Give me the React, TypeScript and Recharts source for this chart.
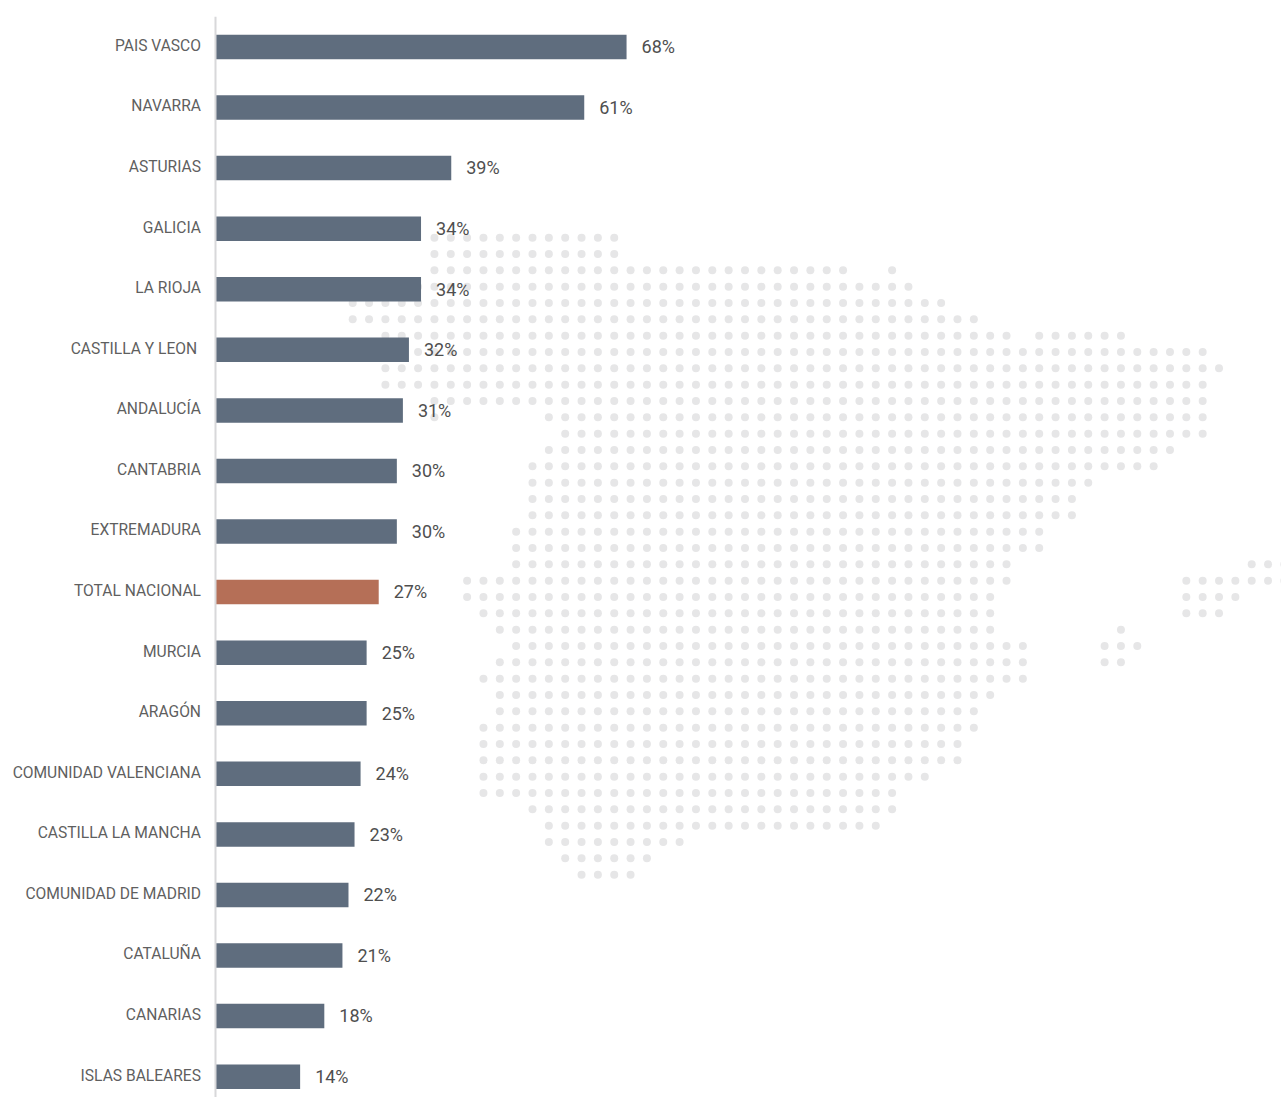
import React from 'react';
import { BarChart, Bar, XAxis, YAxis, Cell, LabelList, ScatterChart, Scatter } from 'recharts';

const regions = [
  'PAIS VASCO', 'NAVARRA', 'ASTURIAS', 'GALICIA', 'LA RIOJA', 'CASTILLA Y LEON\u00a0',
  'ANDALUCÍA', 'CANTABRIA', 'EXTREMADURA', 'TOTAL NACIONAL', 'MURCIA', 'ARAGÓN',
  'COMUNIDAD VALENCIANA', 'CASTILLA LA MANCHA', 'COMUNIDAD DE MADRID', 'CATALUÑA',
  'CANARIAS', 'ISLAS BALEARES',
];
const percents = [68, 61, 39, 34, 34, 32, 31, 30, 30, 27, 25, 25, 24, 23, 22, 21, 18, 14];
const highlighted = 'TOTAL NACIONAL';

// Map of Spain as dot-grid rows, each row a list of [first, last] column runs
const mapRows: number[][][] = [
  [[5, 16]], [[5, 16]], [[5, 30], [33, 33]], [[4, 34]], [[0, 36]], [[0, 38]],
  [[2, 40], [42, 47]], [[2, 52]], [[2, 53]], [[2, 52]], [[5, 52]], [[5, 5], [12, 52]],
  [[13, 52]], [[12, 50]], [[11, 49]], [[11, 45]], [[11, 44]], [[11, 44]],
  [[10, 42]], [[10, 42]], [[10, 40], [55, 57]], [[7, 40], [51, 57]], [[7, 39], [51, 54]],
  [[8, 39], [51, 53]], [[9, 39], [47, 47]], [[10, 41], [46, 48]], [[9, 41], [46, 47]],
  [[8, 41]], [[9, 39]], [[9, 38]], [[8, 38]], [[8, 37]], [[8, 37]], [[8, 35]],
  [[8, 33]], [[11, 33]], [[12, 32]], [[12, 20]], [[13, 18]], [[14, 17]],
];

const barData = regions.map((region, i) => ({ region, percent: percents[i] }));

const mapDots = mapRows.flatMap((runs, row) =>
  runs.flatMap(([first, last]) => {
    const dots: { col: number; row: number }[] = [];
    for (let col = first; col <= last; col++) dots.push({ col, row });
    return dots;
  })
);

const FONT = 'Roboto, sans-serif';
const layer: React.CSSProperties = { position: 'absolute', left: 0, top: 0 };

const MapDot = (props: any) => <circle cx={props.cx} cy={props.cy} r={4} fill="#e6e6e7" />;

const App: React.FC = () => {
  return (
    <div style={{ position: 'absolute', left: 0, top: 0, width: 1281, height: 1097, overflow: 'hidden', background: '#fff' }}>
      <div style={layer}>
        <ScatterChart width={1300} height={1097} margin={{ top: 237.7, right: 15.6, bottom: 222.3, left: 352.7 }}>
          <XAxis type="number" dataKey="col" domain={[0, 57]} hide />
          <YAxis type="number" dataKey="row" domain={[0, 39]} reversed hide />
          <Scatter data={mapDots} shape={MapDot} isAnimationActive={false} />
        </ScatterChart>
      </div>
      <div style={layer}>
        <BarChart
          layout="vertical"
          width={1281}
          height={1107}
          data={barData}
          barSize={24.5}
          margin={{ top: 16.7, right: 461, bottom: 0, left: 0 }}
        >
          <XAxis type="number" domain={[0, 100]} hide />
          <YAxis
            type="category"
            dataKey="region"
            width={215.5}
            interval={0}
            tickLine={false}
            tickMargin={8.5}
            axisLine={{ stroke: '#d8d8da', strokeWidth: 2 }}
            tick={{ fontSize: 15.6, fill: '#5f5f5f', fontFamily: FONT, dy: -1.7 }}
          />
          <Bar dataKey="percent" isAnimationActive={false}>
            {barData.map((entry) => (
              <Cell key={entry.region} fill={entry.region === highlighted ? '#b56f57' : '#5f6d7e'} />
            ))}
            <LabelList
              dataKey="percent"
              position="right"
              offset={15}
              formatter={(v: any) => `${v}%`}
              style={{ fontSize: 18, fill: '#4f4f4f', fontFamily: FONT }}
            />
          </Bar>
        </BarChart>
      </div>
    </div>
  );
};

export default App;
